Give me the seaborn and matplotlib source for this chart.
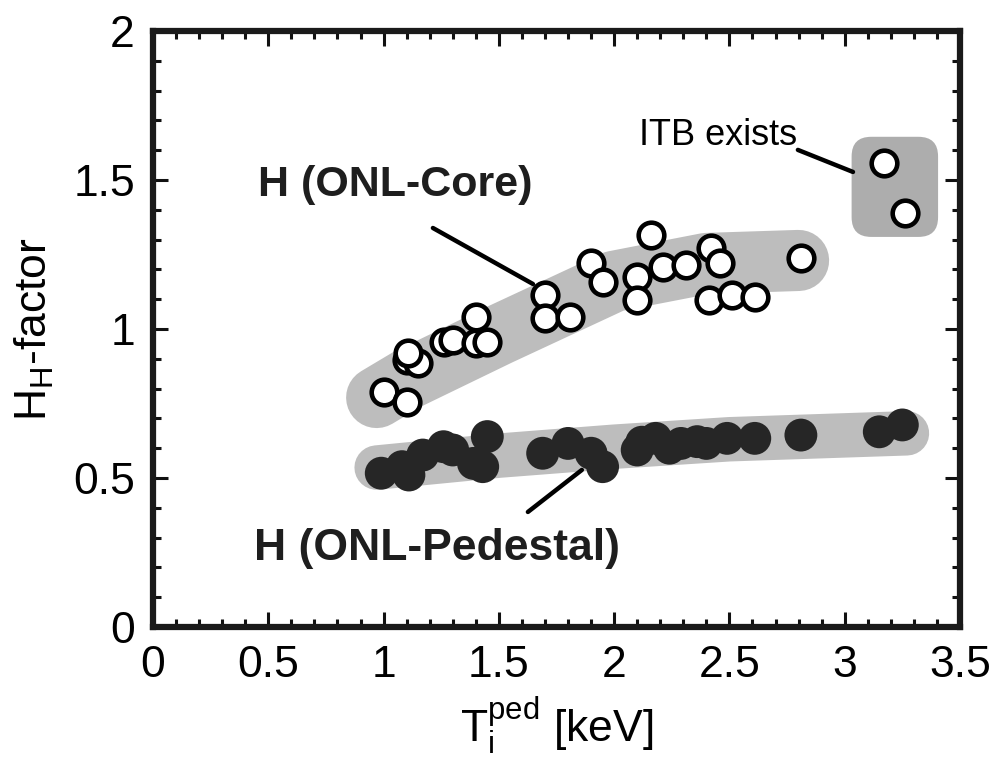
import numpy as np
import pandas as pd
import matplotlib
matplotlib.use("Agg")
import matplotlib.pyplot as plt
import seaborn as sns
from matplotlib.patches import FancyBboxPatch
from matplotlib.ticker import MultipleLocator

# ---------------- data ----------------
core_x = [1.00, 1.10, 1.10, 1.15, 1.105, 1.26, 1.30, 1.40, 1.40, 1.45,
          1.70, 1.70, 1.81, 1.90, 1.95, 2.16, 2.10, 2.10, 2.21, 2.31,
          2.42, 2.46, 2.41, 2.51, 2.61, 2.81]
core_y = [0.790, 0.756, 0.896, 0.885, 0.919, 0.957, 0.963, 1.041, 0.952, 0.957,
          1.114, 1.037, 1.041, 1.220, 1.159, 1.315, 1.176, 1.097, 1.209, 1.215,
          1.271, 1.220, 1.097, 1.114, 1.108, 1.237]

ped_x = [0.99, 1.08, 1.11, 1.17, 1.26, 1.30, 1.39, 1.45, 1.43,
         1.69, 1.80, 1.90, 1.95, 2.10, 2.12, 2.18, 2.24, 2.29, 2.36,
         2.40, 2.49, 2.61, 2.81, 3.15, 3.25]
ped_y = [0.516, 0.538, 0.510, 0.577, 0.605, 0.594, 0.549, 0.639, 0.538,
         0.583, 0.616, 0.583, 0.538, 0.594, 0.620, 0.633, 0.600, 0.616, 0.622,
         0.616, 0.633, 0.633, 0.644, 0.655, 0.678]

itb_x = [3.17, 3.26]
itb_y = [1.556, 1.388]

# shaded guide regions
core_band_x = [0.97, 1.10, 1.50, 2.00, 2.40, 2.80]
core_band_y = [0.77, 0.83, 0.98, 1.16, 1.22, 1.23]
ped_band_x = [0.97, 1.50, 2.00, 2.50, 3.27]
ped_band_y = [0.535, 0.575, 0.605, 0.630, 0.650]
itb_box_x = [3.03, 3.405]
itb_box_y = [1.309, 1.645]

# annotation texts and leader lines
label_core = "H (ONL-Core)"
label_core_pos = (1.05, 1.483)
line_core_x = [1.214, 1.648]
line_core_y = [1.339, 1.151]

label_ped = "H (ONL-Pedestal)"
label_ped_pos = (1.23, 0.265)
line_ped_x = [1.626, 1.860]
line_ped_y = [0.386, 0.527]

label_itb = "ITB exists"
label_itb_pos = (2.45, 1.648)
line_itb_x = [2.797, 3.036]
line_itb_y = [1.601, 1.527]

x_ticks = [0, 0.5, 1, 1.5, 2, 2.5, 3, 3.5]
x_tick_labels = ["0", "0.5", "1", "1.5", "2", "2.5", "3", "3.5"]
y_ticks = [0, 0.5, 1, 1.5, 2]
y_tick_labels = ["0", "0.5", "1", "1.5", "2"]

# ---------------- figure ----------------
sns.set_style("white")
plt.rcParams["font.family"] = ["Liberation Sans", "DejaVu Sans"]
plt.rcParams["mathtext.fontset"] = "custom"
plt.rcParams["mathtext.rm"] = "Liberation Sans"
plt.rcParams["mathtext.it"] = "Liberation Sans"
plt.rcParams["text.color"] = "black"
plt.rcParams["axes.labelcolor"] = "black"
plt.rcParams["xtick.color"] = "black"
plt.rcParams["ytick.color"] = "black"

fig = plt.figure(figsize=(9.98, 7.81), dpi=100)
ax = fig.add_axes([0.1533, 0.1972, 0.8086, 0.7631])

band_col = "#bdbdbd"
ax.plot(core_band_x, core_band_y, color=band_col, lw=44,
        solid_capstyle="round", solid_joinstyle="round", zorder=1)
ax.plot(ped_band_x, ped_band_y, color=band_col, lw=32,
        solid_capstyle="round", solid_joinstyle="round", zorder=1)
box = FancyBboxPatch((itb_box_x[0], itb_box_y[0]),
                     itb_box_x[1] - itb_box_x[0], itb_box_y[1] - itb_box_y[0],
                     boxstyle="round,pad=0,rounding_size=0.085",
                     mutation_aspect=0.774, facecolor="#adadad",
                     edgecolor="none", zorder=1)
ax.add_patch(box)

df_core = pd.DataFrame({"T": core_x, "H": core_y})
df_ped = pd.DataFrame({"T": ped_x, "H": ped_y})
df_itb = pd.DataFrame({"T": itb_x, "H": itb_y})

sns.scatterplot(data=df_ped, x="T", y="H", ax=ax, s=560, color="#262626",
                edgecolor="none", linewidth=0, zorder=3, legend=False)
sns.scatterplot(data=df_core, x="T", y="H", ax=ax, s=340, color="white",
                edgecolor="black", linewidth=3.3, zorder=4, legend=False)
sns.scatterplot(data=df_itb, x="T", y="H", ax=ax, s=340, color="white",
                edgecolor="black", linewidth=3.3, zorder=4, legend=False)

# leader lines
for lx, ly in [(line_core_x, line_core_y), (line_ped_x, line_ped_y),
               (line_itb_x, line_itb_y)]:
    ax.plot(lx, ly, color="black", lw=3.2, solid_capstyle="round", zorder=5)

ax.text(*label_core_pos, label_core, fontsize=31, fontweight="bold",
        ha="center", va="center", color="#1e1e1e", zorder=6)
ax.text(*label_ped_pos, label_ped, fontsize=32, fontweight="bold",
        ha="center", va="center", color="#1e1e1e", zorder=6)
ax.text(*label_itb_pos, label_itb, fontsize=26,
        ha="center", va="center", color="black", zorder=6)

ax.set_xlim(0, 3.5)
ax.set_ylim(0, 2)
ax.set_xticks(x_ticks)
ax.set_xticklabels(x_tick_labels)
ax.set_yticks(y_ticks)
ax.set_yticklabels(y_tick_labels)
ax.xaxis.set_minor_locator(MultipleLocator(0.1))
ax.yaxis.set_minor_locator(MultipleLocator(0.1))
ax.tick_params(which="both", direction="in", top=True, right=True,
               bottom=True, left=True, color="#111111", width=2.2)
ax.tick_params(which="major", length=11, labelsize=32, pad=13)
ax.tick_params(which="minor", length=6)
for sp in ax.spines.values():
    sp.set_visible(True)
    sp.set_linewidth(4.5)
    sp.set_color("#1a1a1a")

ax.set_xlabel(r"$\mathregular{T_i^{ped}}$ [keV]", fontsize=32, labelpad=6)
ax.set_ylabel(r"H$_\mathregular{H}$-factor", fontsize=32, labelpad=12)

fig.savefig("out.png", dpi=100, facecolor="white")
